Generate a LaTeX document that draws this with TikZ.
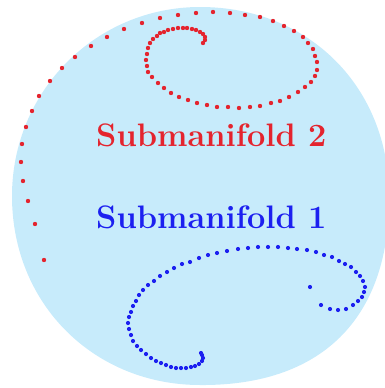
\documentclass[tikz,border=0pt]{standalone}
\usepackage{tikz}
\definecolor{skyfill}{RGB}{199,235,251}
\definecolor{manired}{RGB}{228,36,46}
\definecolor{maniblue}{RGB}{28,32,240}
\begin{document}
\begin{tikzpicture}[x=1pt, y=-1pt, line join=round, line cap=round]
		\tikzset{reddot/.style={fill=manired}, bluedot/.style={fill=maniblue},
			label style/.style={font=\fontsize{32.5}{38}\selectfont\bfseries, inner sep=0pt, anchor=base west}}
		\useasboundingbox (0,0) rectangle (385,388);
		% the ball
		\fill[skyfill] (12,196) .. controls (12,91) and (96,7) .. (200,7)
			.. controls (310,7) and (389,88) .. (389,196)
			.. controls (390,320) and (320,386) .. (200,385)
			.. controls (95,385) and (12,305) .. cycle;
		% submanifold 2
		\foreach \p in {(44,260),(35,224),(28,201),(23,181),(21,162),(22,144),(26,127),(32,111),(39,96),
			(50,81),(62,68),(75,57),(91,46),(107,37),(124,29),(142,23),(160,18),(178,15),(196,13),
			(213,12),(230,13),(245,15),(260,17),(273,21),(284,26),(294,31),(303,37),(308,43),(313,49),
			(315,56),(317,62),(317,70),(315,76),(311,82),(305,87),(298,92),(289,97),(280,101),(271,103),
			(260,106),(250,107),(239,108),(228,107),(217,107),(207,105),(197,103),(188,100),(179,97),
			(171,93),(164,88),(158,83),(152,77),(148,72),(147,66),(146,60),(147,54),(148,48),(150,43),
			(153,39),(157,36),(160,33),(164,32),(168,30),(173,29),(178,28),(183,28),(187,28),(192,29),
			(196,30),(200,32),(203,34),(205,37),(205,40),(203,43)}
		\fill[reddot] \p circle (2.2pt);
		% submanifold 1
		\foreach \p in {(310,287),(321,305),(330,309),(338,310),(346,309),(353,305),(358,301),(362,297),
			(364,292),(365,287),(363,281),(360,276),(356,272),(351,267),(345,264),(339,261),(332,257),
			(324,255),(316,252),(307,250),(297,249),(288,248),(278,247),(268,247),(258,247),(248,248),
			(238,249),(227,251),(217,253),(208,255),(199,258),(190,262),(182,264),(174,268),(167,272),
			(160,276),(154,281),(148,285),(143,290),(139,295),(136,301),(133,306),(131,312),(129,317),
			(128,323),(129,329),(131,335),(133,341),(137,346),(141,350),(146,354),(151,358),(156,361),
			(161,363),(166,365),(171,367),(176,368),(181,368),(186,368),(191,367),(195,366),(199,364),
			(202,361),(203,358),(202,355),(201,353)}
		\fill[bluedot] \p circle (2.1pt);
		\node[label style, text=manired] (sub2) at (96,146) {Submanifold 2};
		\node[label style, text=maniblue] (sub1) at (96,228) {Submanifold 1};
	\end{tikzpicture}
\end{document}
